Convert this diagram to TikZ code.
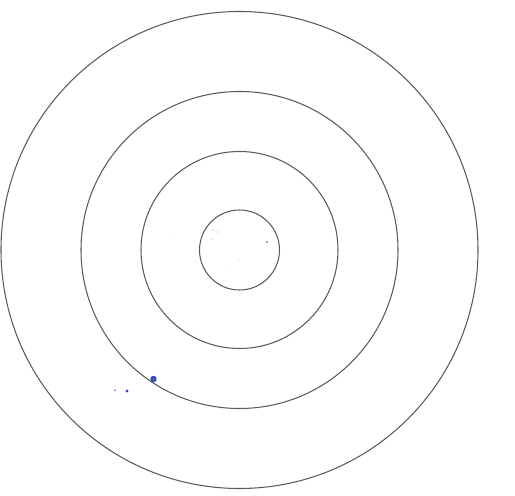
\documentclass[tikz,border=0pt]{standalone}
\usepackage{tikz}
\usepackage{xcolor}
\usetikzlibrary{calc}
\definecolor{ringgray}{HTML}{5A5A5A}
\definecolor{hitblue}{HTML}{3A3ADC}
\definecolor{hitgreen}{HTML}{2E7D4A}
\definecolor{hitcyan}{HTML}{9FE3E8}
\definecolor{hitviolet}{HTML}{9A8CE0}

\begin{document}
\begin{tikzpicture}[x=0.02cm, y=-0.02cm]
    % 0. Canvas (515 x 496 px)
    \useasboundingbox (0,0) rectangle (515,496);
    \coordinate (centre) at (239.5,250);
    % 1. Target rings
    \foreach \r in {40, 98.5, 158.5, 238.5} {
        \draw[ringgray, line width=0.6pt] (centre) circle (\r);
    }
    % 2. Faint marks near the centre
    \foreach \x/\y/\c in {174/239/hitcyan, 213/230/hitviolet, 218/232/hitviolet,
                          212/239/hitviolet, 195/261/hitcyan, 226/265/hitcyan,
                          239/260/hitcyan} {
        \fill[\c] (\x,\y) circle (0.6);
    }
    \fill[hitblue] (267,242) circle (0.9);
    % 3. Hits on the lower left
    \fill[hitblue] (153.5,379) circle (3.2);
    \fill[hitgreen] (154,379.5) circle (1.8);
    \fill[hitblue] (127,391) circle (1.6);
    \fill[hitblue!70] (115,390.5) circle (1.0);
\end{tikzpicture}
\end{document}
